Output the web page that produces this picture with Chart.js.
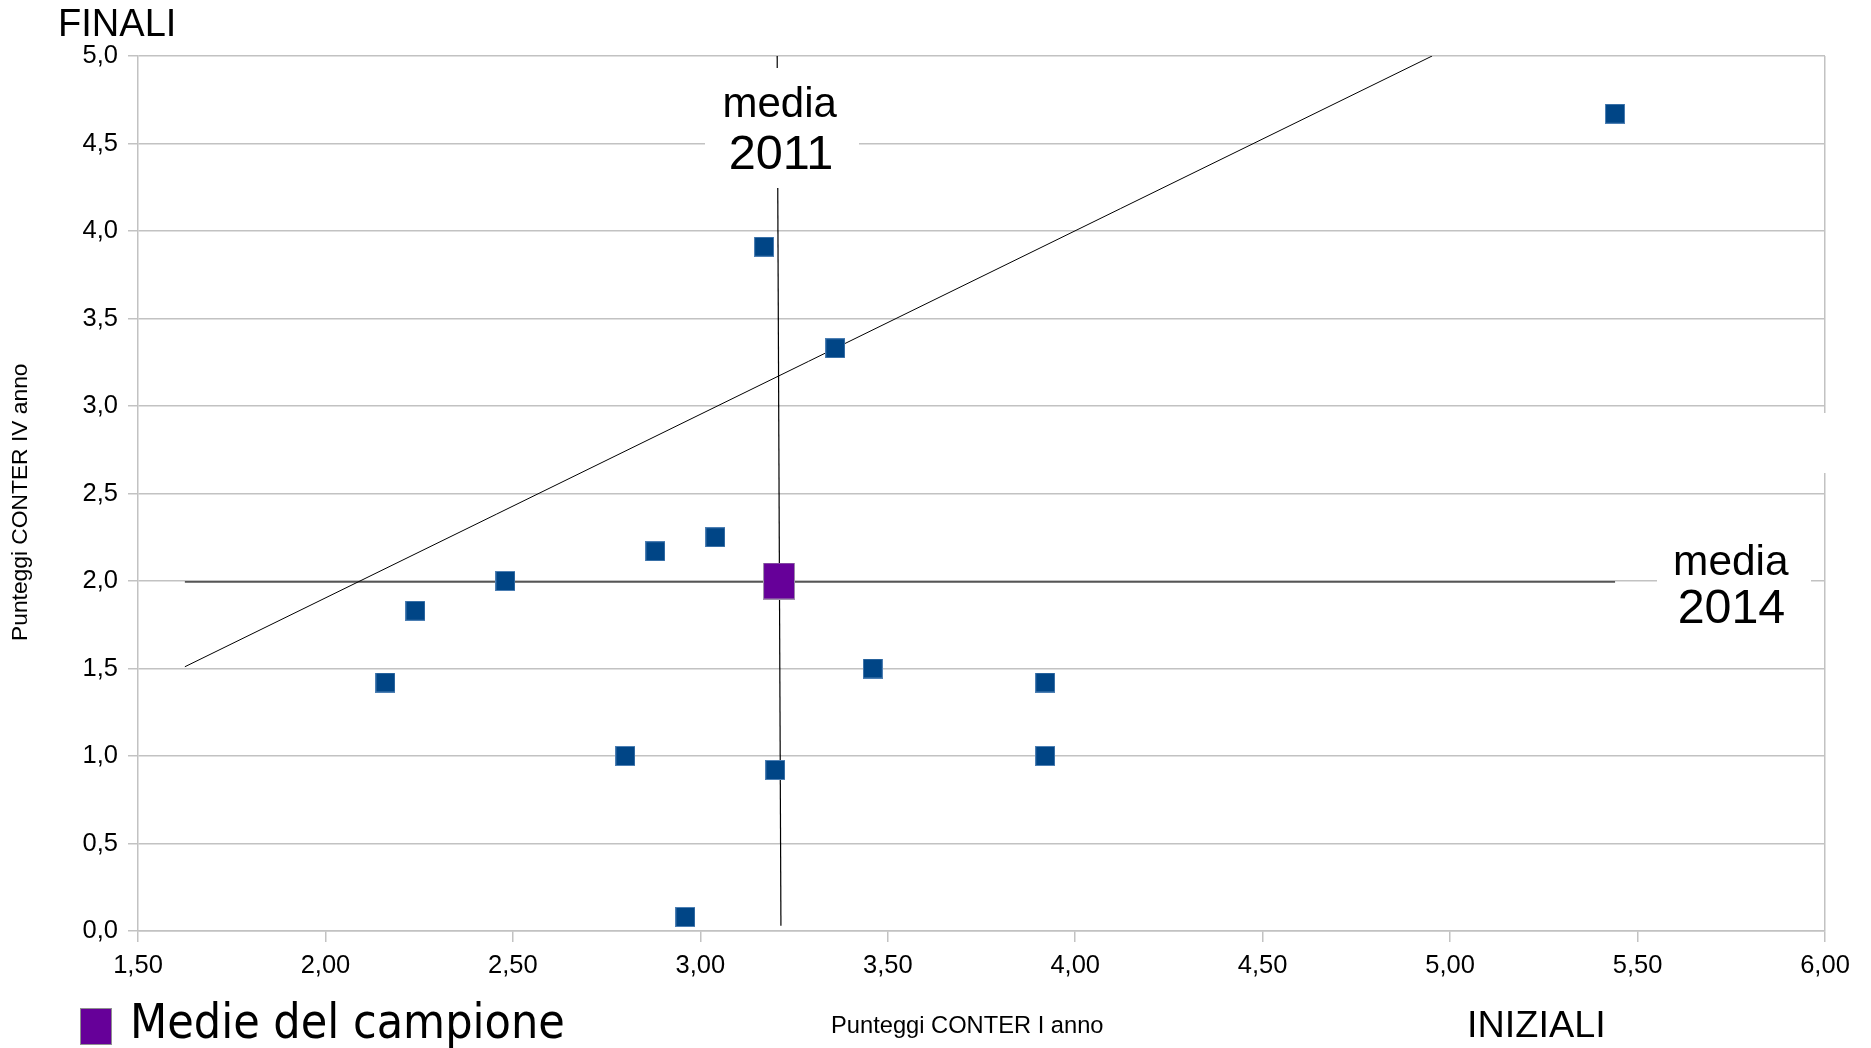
<!DOCTYPE html>
<html>
<head>
<meta charset="utf-8">
<script src="https://cdn.jsdelivr.net/npm/chart.js@4.4.1/dist/chart.umd.min.js"></script>
<style>
    body { margin: 0; background: #fff; }
    canvas { display: block; }
</style>
</head>
<body>
<canvas id="scatter" width="1871" height="1048"></canvas>
<script>
// punteggi iniziali (I anno) e finali (IV anno)
const xValues = [2.16, 2.24, 2.48, 2.80, 2.88, 2.96, 3.04, 3.17, 3.20, 3.36, 3.46, 3.92, 3.92, 5.44];
const yValues = [1.42, 1.83, 2.00, 1.00, 2.17, 0.08, 2.25, 3.91, 0.92, 3.33, 1.50, 1.42, 1.00, 4.67];

// medie del campione
const meanX = [3.21];
const meanY = [2.00];

// retta di tendenza e linee delle medie
const trendX = [1.625, 4.952];
const trendY = [1.51, 5.00];
const media2011X = [3.205, 3.215];
const media2011Y = [5.00, 0.03];
const media2014X = [1.625, 5.44];
const media2014Y = [1.995, 1.995];

const xTicks = [1.5, 6.0, 0.5];   // min, max, passo
const yTicks = [0.0, 5.0, 0.5];

const BLUE = '#004586';
const PURPLE = '#660099';
const GRID = '#c2c2c2';
const SANS = '"Liberation Sans", Arial, sans-serif';
const CONDENSED = '"DejaVu Sans Condensed", "DejaVu Sans", sans-serif';

function toPoints(xs, ys) {
    return xs.map((x, i) => ({ x: x, y: ys[i] }));
}

// marcatori rettangolari
function makeMarker(w, h, fill, stroke) {
    const c = document.createElement('canvas');
    c.width = w;
    c.height = h;
    const g = c.getContext('2d');
    g.fillStyle = fill;
    g.fillRect(0, 0, w, h);
    g.strokeStyle = stroke;
    g.lineWidth = 1;
    g.strokeRect(0.5, 0.5, w - 1, h - 1);
    return c;
}
const blueMarker = makeMarker(20, 20, BLUE, '#4d7fb3');
const purpleMarker = makeMarker(32, 37, PURPLE, '#a090ac');

function fmt(v, d) {
    return v.toFixed(d).replace('.', ',');
}

// testo adattato alla larghezza misurata sull'originale
function fitText(ctx, text, family, width, align) {
    ctx.textAlign = align;
    ctx.textBaseline = 'alphabetic';
    ctx.font = '100px ' + family;
    const m = ctx.measureText(text);
    const w = m.actualBoundingBoxLeft + m.actualBoundingBoxRight;
    ctx.font = (100 * width / w) + 'px ' + family;
    return ctx.measureText(text);
}

function drawLeft(ctx, text, family, left, baseline, width) {
    const m = fitText(ctx, text, family, width, 'left');
    ctx.fillText(text, left + m.actualBoundingBoxLeft, baseline);
}

function drawCenter(ctx, text, family, cx, baseline, width) {
    const m = fitText(ctx, text, family, width, 'left');
    const w = m.actualBoundingBoxLeft + m.actualBoundingBoxRight;
    ctx.fillText(text, cx - w / 2 + m.actualBoundingBoxLeft, baseline);
}

const annotations = {
    id: 'annotations',
    afterDraw(chart) {
        const ctx = chart.ctx;
        ctx.save();

        // riquadri bianchi delle etichette
        ctx.fillStyle = '#fff';
        ctx.fillRect(705, 68, 154, 120);
        ctx.fillRect(1657, 540, 154, 100);
        ctx.fillRect(1820, 413, 10, 60);

        ctx.fillStyle = '#000';
        drawCenter(ctx, 'media', SANS, 781, 117, 112);
        drawCenter(ctx, '2011', SANS, 781, 169, 100);
        drawCenter(ctx, 'media', SANS, 1732, 575, 113);
        drawCenter(ctx, '2014', SANS, 1732, 623, 104);

        drawLeft(ctx, 'FINALI', SANS, 61, 36, 112);
        drawLeft(ctx, 'INIZIALI', SANS, 1470, 1037, 132);
        drawLeft(ctx, 'Punteggi CONTER I anno', SANS, 832, 1033, 270);

        // titolo asse verticale
        ctx.save();
        ctx.translate(27, 640);
        ctx.rotate(-Math.PI / 2);
        drawLeft(ctx, 'Punteggi CONTER IV anno', SANS, 0, 0, 275);
        ctx.restore();

        // legenda
        ctx.fillStyle = PURPLE;
        ctx.fillRect(80, 1008, 32, 37);
        ctx.strokeStyle = '#909090';
        ctx.lineWidth = 1;
        ctx.strokeRect(80.5, 1008.5, 31, 36);
        ctx.fillStyle = '#000';
        drawLeft(ctx, 'Medie del campione', CONDENSED, 134, 1038, 429);

        ctx.restore();
    }
};

const chart = new Chart(document.getElementById('scatter'), {
    type: 'scatter',
    data: {
        datasets: [{
            label: 'Punteggi',
            data: toPoints(xValues, yValues),
            pointStyle: blueMarker,
            showLine: false
        }, {
            label: 'Medie del campione',
            data: toPoints(meanX, meanY),
            pointStyle: purpleMarker,
            showLine: false
        }, {
            label: 'Tendenza',
            data: toPoints(trendX, trendY),
            showLine: true,
            pointRadius: 0,
            borderColor: '#000',
            borderWidth: 1
        }, {
            label: 'media 2011',
            data: toPoints(media2011X, media2011Y),
            showLine: true,
            pointRadius: 0,
            borderColor: '#000',
            borderWidth: 1.2
        }, {
            label: 'media 2014',
            data: toPoints(media2014X, media2014Y),
            showLine: true,
            pointRadius: 0,
            borderColor: '#555',
            borderWidth: 1.6
        }]
    },
    options: {
        responsive: false,
        animation: false,
        devicePixelRatio: 1,
        layout: {
            padding: { top: 56, right: 46, left: 0, bottom: 0 }
        },
        plugins: {
            legend: { display: false },
            tooltip: { enabled: false }
        },
        scales: {
            x: {
                type: 'linear',
                min: xTicks[0],
                max: xTicks[1],
                afterFit: s => { s.height = 117; },
                ticks: {
                    stepSize: xTicks[2],
                    padding: 9,
                    color: '#000',
                    font: { family: SANS, size: 25.5 },
                    callback: v => fmt(v, 2)
                },
                grid: {
                    color: c => (c.tick && c.tick.value === xTicks[1]) ? GRID : 'rgba(0,0,0,0)',
                    tickColor: GRID,
                    tickLength: 11,
                    lineWidth: 1.5
                },
                border: { color: GRID, width: 1.5 }
            },
            y: {
                type: 'linear',
                min: yTicks[0],
                max: yTicks[1],
                afterFit: s => { s.width = 138; },
                ticks: {
                    stepSize: yTicks[2],
                    padding: 10,
                    color: '#000',
                    font: { family: SANS, size: 25.5 },
                    callback: v => fmt(v, 1)
                },
                grid: {
                    color: GRID,
                    tickColor: GRID,
                    tickLength: 10,
                    lineWidth: 1.5
                },
                border: { color: GRID, width: 1.5 }
            }
        }
    },
    plugins: [annotations]
});
</script>
</body>
</html>
